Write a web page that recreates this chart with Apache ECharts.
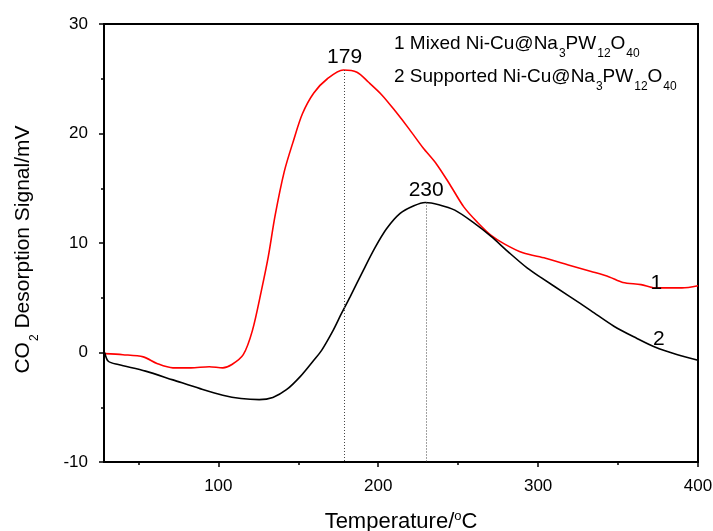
<!DOCTYPE html>
<html><head><meta charset="utf-8">
<script src="https://cdn.jsdelivr.net/npm/echarts@6/dist/echarts.min.js"></script>
<style>html,body{margin:0;padding:0;background:#fff}#c{width:713px;height:531px}</style>
</head><body><div id="c"></div>
<script>
// Curve 1: Mixed Ni-Cu@Na3PW12O40 (red)
const temps1 = [28.9,40.3,53.1,61.6,71.6,82.9,94.3,102.8,108.5,115.6,121.3,127,131.3,135.5,141.2,146.9,152.6,159.7,168.2,178.2,186.7,193.8,202.4,210.9,219.4,228,236.5,245,253.5,262,270.6,279.1,290.5,304.7,318.9,333.2,344.5,353,364.4,373,390,400];
const signal1 = [-0.1,-0.2,-0.4,-1.0,-1.4,-1.4,-1.3,-1.4,-1.1,-0.2,2.0,5.7,8.8,12.5,16.5,19.3,21.8,23.7,25.0,25.8,25.6,24.7,23.5,22.0,20.4,18.7,17.2,15.3,13.3,11.9,10.7,9.9,9.1,8.6,8.0,7.4,6.9,6.4,6.2,5.9,5.9,6.1];
// Curve 2: Supported Ni-Cu@Na3PW12O40 (black)
const temps2 = [28.9,31.2,37.4,54.5,71.6,88.6,102.8,114.2,125.6,134.1,142.6,151.2,159.7,164.6,171.9,176.8,182.5,191,198.1,205.2,213.7,222.3,229.4,237.9,247.9,259.2,270.6,282,293.3,301.2,318.9,333.2,347.4,361.6,373,387.2,400];
const signal2 = [0.0,-0.8,-1.1,-1.7,-2.5,-3.3,-3.9,-4.2,-4.3,-4.1,-3.4,-2.2,-0.7,0.2,2.05,3.5,5.1,7.6,9.6,11.3,12.7,13.4,13.7,13.5,13.0,11.9,10.6,9.1,7.7,6.9,5.2,3.8,2.4,1.3,0.5,-0.2,-0.7];
const peaks = [{t:179, v:25.8, label:'179'}, {t:230, v:13.7, label:'230'}];
const curveLabels = [{t:374, v:6.3, label:'1'}, {t:375.5, v:1.2, label:'2'}];
const xLabels = [100,200,300,400];
const xMinor = [50,150,250,350];

const FONT = 'Liberation Sans, Arial, sans-serif';
const d1 = temps1.map((t,i)=>[t,signal1[i]]);
const d2 = temps2.map((t,i)=>[t,signal2[i]]);

const chart = echarts.init(document.getElementById('c'));
const axisCommon = {min:28.5, max:400, type:'value'};
const subRich = (fs, sfs, col, drop) => ({
  n:{fontFamily:FONT,fontSize:fs,[col]:'#000',verticalAlign:'bottom',lineHeight:24},
  s:{fontFamily:FONT,fontSize:sfs,[col]:'#000',verticalAlign:'bottom',lineHeight:24,padding:[0,0,-drop,1]}
});
function peakLine(p){
  return {silent:true, symbol:'none', animation:false,
    lineStyle:{color:'#444',type:[1,2],width:1},
    label:{show:true,position:'start',formatter:q=>q.data.name,color:'#000',fontFamily:FONT,fontSize:21,distance:2},
    data:[[{name:p.label, coord:[p.t,p.v]},{coord:[p.t,-10]}]]};
}
function curveMark(c){
  return {symbol:'circle',symbolSize:1,itemStyle:{color:'rgba(0,0,0,0)'},
    label:{show:true,position:'inside',color:'#000',fontFamily:FONT,fontSize:21,formatter:q=>q.name},
    data:[{name:c.label, coord:[c.t,c.v]}]};
}
chart.setOption({
  animation:false,
  backgroundColor:'#fff',
  grid:{left:104, right:15, top:24, bottom:69, containLabel:false, outerBoundsMode:'none', show:true, borderColor:'#000', borderWidth:2},
  xAxis:[
    Object.assign({}, axisCommon, {
      name:'{a|Temperature/}{s|o}{a|C}', nameLocation:'middle', nameGap:47,
      nameTextStyle:{rich:{a:{fontFamily:FONT,fontSize:22,color:'#000',verticalAlign:'bottom',lineHeight:24},s:{fontFamily:FONT,fontSize:13,color:'#000',verticalAlign:'bottom',lineHeight:24,padding:[0,0,10,0]}}},
      axisLine:{show:true,onZero:false,lineStyle:{color:'#000',width:2}},
      axisTick:{show:true,length:5,lineStyle:{color:'#000',width:1.5},customValues:xLabels},
      axisLabel:{show:true,customValues:xLabels,color:'#000',fontFamily:FONT,fontSize:17,margin:16},
      splitLine:{show:false}
    }),
    Object.assign({}, axisCommon, {
      position:'bottom',
      axisLine:{show:false,onZero:false},
      axisTick:{show:true,length:3,lineStyle:{color:'#000',width:1.5},customValues:xMinor},
      axisLabel:{show:false},
      splitLine:{show:false}
    })
  ],
  yAxis:{
    type:'value', min:-10, max:30, interval:10,
    name:'{n|CO}{s|2}{n| Desorption Signal/mV}', nameLocation:'middle', nameGap:70, nameRotate:90,
    nameTextStyle:{padding:[0,13,0,0], rich:subRich(21,12,'color',7)},
    axisLine:{show:true,onZero:false,lineStyle:{color:'#000',width:2}},
    axisTick:{show:true,length:5,lineStyle:{color:'#000',width:1.5}},
    minorTick:{show:true,splitNumber:2,length:3,lineStyle:{color:'#000',width:1.5}},
    axisLabel:{color:'#000',fontFamily:FONT,fontSize:17,margin:16},
    splitLine:{show:false}
  },
  series:[
    {type:'line', data:d1, showSymbol:false, smooth:0.3, lineStyle:{color:'#ff0000',width:1.6}, itemStyle:{color:'#ff0000'},
     markLine:peakLine(peaks[0]), markPoint:curveMark(curveLabels[0])},
    {type:'line', data:d2, showSymbol:false, smooth:0.3, lineStyle:{color:'#000',width:1.6}, itemStyle:{color:'#000'},
     markLine:peakLine(peaks[1]), markPoint:curveMark(curveLabels[1])}
  ],
  graphic:[
    {type:'text', left:394, top:34, style:{text:'{n|1 Mixed Ni-Cu@Na}{s|3}{n|PW}{s|12}{n|O}{s|40}', rich:subRich(19,12,'fill',7)}},
    {type:'text', left:394, top:67, style:{text:'{n|2 Supported Ni-Cu@Na}{s|3}{n|PW}{s|12}{n|O}{s|40}', rich:subRich(19,12,'fill',7)}}
  ]
});
</script></body></html>
